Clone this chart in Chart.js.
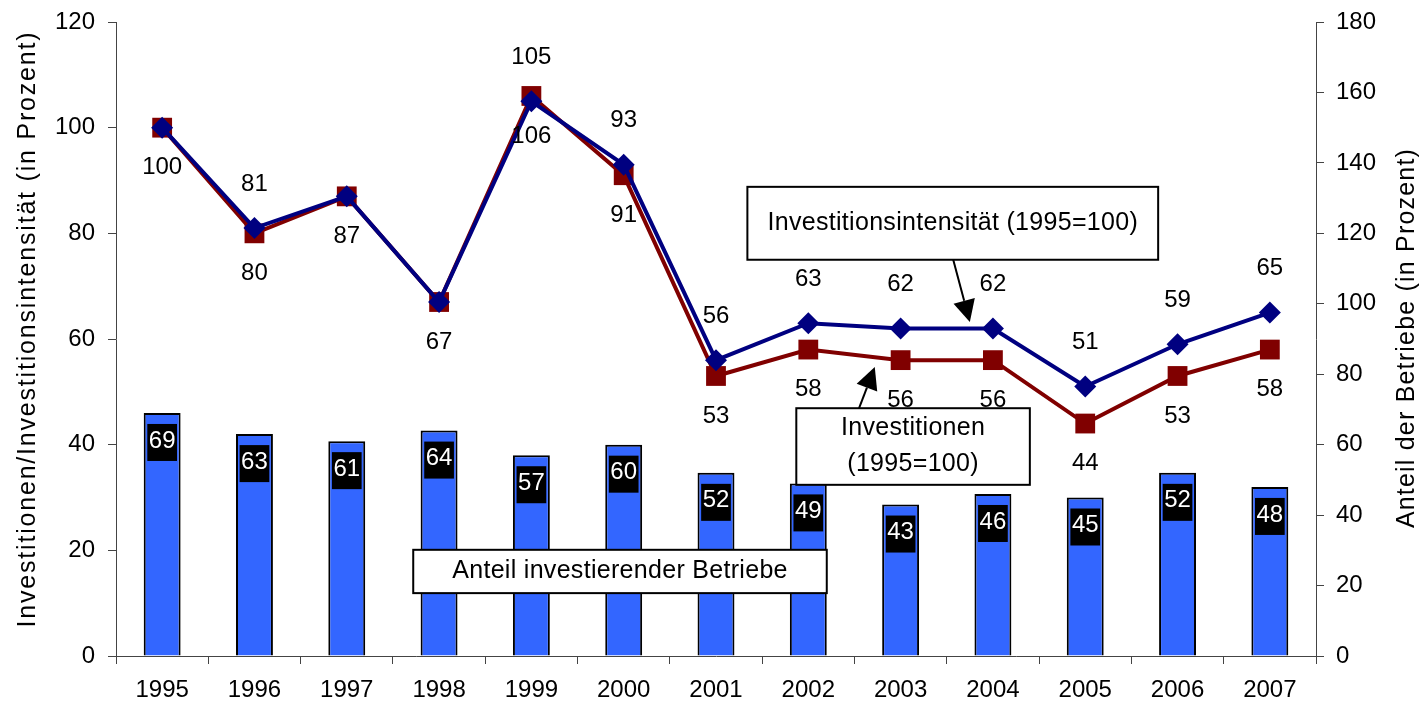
<!DOCTYPE html>
<html>
<head>
<meta charset="utf-8">
<script src="https://cdn.jsdelivr.net/npm/chart.js@4.4.1/dist/chart.umd.min.js"></script>
<style>
  html, body { margin: 0; padding: 0; background: #fff; }
  #wrap { width: 1420px; height: 706px; }
</style>
</head>
<body>
<div id="wrap"><canvas id="chart" width="1420" height="706"></canvas></div>
<script>
// Daten
const jahre = ['1995', '1996', '1997', '1998', '1999', '2000', '2001', '2002', '2003', '2004', '2005', '2006', '2007'];
const anteilBetriebe = [69, 63, 61, 64, 57, 60, 52, 49, 43, 46, 45, 52, 48];
const investitionen = [100, 80, 87, 67, 106, 91, 53, 58, 56, 56, 44, 53, 58];
const intensitaet = [100, 81, 87, 67, 105, 93, 56, 63, 62, 62, 51, 59, 65];
const linksTicks = [0, 20, 40, 60, 80, 100, 120];
const rechtsTicks = [0, 20, 40, 60, 80, 100, 120, 140, 160, 180];

const FONT = 'Liberation Sans, Arial, sans-serif';
const BLAU = '#000080';
const ROT = '#800000';
const BALKEN = '#3366ff';

// Textfelder mit Pfeilen (x in Kategorie-Index, y in Werten der linken Achse)
const hinweise = [
    { zeilen: ['Investitionsintensität (1995=100)'], x1: 6.34, x2: 10.79, y1: 88.8, y2: 75.0,
      pfeil: { von: [8.57, 75.0], nach: [8.75, 63.2] } },
    { zeilen: ['Investitionen', '(1995=100)'], x1: 6.87, x2: 9.40, y1: 46.9, y2: 32.4,
      pfeil: { von: [7.55, 46.9], nach: [7.72, 54.7] } },
    { zeilen: ['Anteil investierender Betriebe'], x1: 2.72, x2: 7.20, y1: 20.1, y2: 11.9 }
];

// Achsentitel, beide von unten nach oben gelesen
function zeichneTitel(ctx, text, x, y, abstand) {
    ctx.save();
    ctx.translate(x, y);
    ctx.rotate(-Math.PI / 2);
    ctx.letterSpacing = abstand + 'px';
    ctx.fillText(text, 0, 0);
    ctx.restore();
}

// Plugin: Beschriftungen, Textfelder, Achsentitel
const beschriftungPlugin = {
    id: 'beschriftung',
    afterDatasetsDraw(chart) {
        const ctx = chart.ctx;
        const xs = chart.scales.x;
        const ys = chart.scales.y;
        ctx.save();
        ctx.font = '24px ' + FONT;
        ctx.textAlign = 'center';
        ctx.textBaseline = 'middle';

        // Balkenwerte in schwarzen Kästchen
        const balken = chart.getDatasetMeta(0).data;
        balken.forEach((bar, i) => {
            const txt = String(anteilBetriebe[i]);
            const w = ctx.measureText(txt).width + 3;
            const top = bar.y + 11;
            ctx.fillStyle = '#000';
            ctx.fillRect(bar.x - w / 2, top, w, 37);
            ctx.fillStyle = '#fff';
            ctx.fillText(txt, bar.x, top + 17);
        });

        // Linienwerte
        ctx.fillStyle = '#000';
        chart.getDatasetMeta(1).data.forEach((pt, i) => {
            ctx.fillText(String(investitionen[i]), pt.x, pt.y + 40);
        });
        chart.getDatasetMeta(2).data.forEach((pt, i) => {
            if (intensitaet[i] !== investitionen[i]) {
                ctx.fillText(String(intensitaet[i]), pt.x, pt.y - 44);
            }
        });

        // Textfelder
        ctx.font = '25px ' + FONT;
        hinweise.forEach(h => {
            const l = xs.getPixelForValue(h.x1), r = xs.getPixelForValue(h.x2);
            const t = ys.getPixelForValue(h.y1), b = ys.getPixelForValue(h.y2);
            ctx.fillStyle = '#fff';
            ctx.fillRect(l, t, r - l, b - t);
            ctx.strokeStyle = '#000';
            ctx.lineWidth = 2;
            ctx.strokeRect(l, t, r - l, b - t);
            ctx.fillStyle = '#000';
            const lh = 36;
            const mitte = (t + b) / 2;
            ctx.letterSpacing = '0.3px';
            h.zeilen.forEach((z, k) => {
                ctx.fillText(z, (l + r) / 2, mitte + (k - (h.zeilen.length - 1) / 2) * lh);
            });
            ctx.letterSpacing = '0px';
            if (h.pfeil) {
                const x0 = xs.getPixelForValue(h.pfeil.von[0]), y0 = ys.getPixelForValue(h.pfeil.von[1]);
                const x1 = xs.getPixelForValue(h.pfeil.nach[0]), y1 = ys.getPixelForValue(h.pfeil.nach[1]);
                const ang = Math.atan2(y1 - y0, x1 - x0);
                const len = 22, half = 11;
                const bx = x1 - Math.cos(ang) * len, by = y1 - Math.sin(ang) * len;
                ctx.beginPath();
                ctx.moveTo(x0, y0);
                ctx.lineTo(bx, by);
                ctx.lineWidth = 2;
                ctx.stroke();
                ctx.beginPath();
                ctx.moveTo(x1, y1);
                ctx.lineTo(bx + Math.sin(ang) * half, by - Math.cos(ang) * half);
                ctx.lineTo(bx - Math.sin(ang) * half, by + Math.cos(ang) * half);
                ctx.closePath();
                ctx.fill();
            }
        });

        // Achsentitel
        zeichneTitel(ctx, 'Investitionen/Investitionsintensität (in Prozent)', 28, 329, 1.8);
        zeichneTitel(ctx, 'Anteil der Betriebe (in Prozent)', 1407, 338, 1.2);
        ctx.restore();
    }
};

const achsenFarbe = '#444';

// feste Achsenbreite, keine Zusatzabstände oben/unten
function festeBreite(breite) {
    return function (s) {
        s.width = breite;
        s.paddingTop = 0;
        s.paddingBottom = 0;
    };
}

new Chart(document.getElementById('chart'), {
    type: 'bar',
    data: {
        labels: jahre,
        datasets: [{
            type: 'bar',
            label: 'Anteil investierender Betriebe',
            data: anteilBetriebe,
            yAxisID: 'y1',
            backgroundColor: BALKEN,
            borderColor: '#000',
            borderWidth: 2,
            barPercentage: 0.4,
            categoryPercentage: 1,
            order: 3
        }, {
            type: 'line',
            label: 'Investitionen (1995=100)',
            data: investitionen,
            yAxisID: 'y',
            borderColor: ROT,
            backgroundColor: ROT,
            borderWidth: 4,
            pointStyle: 'rect',
            pointRadius: 14,
            pointBorderWidth: 0,
            tension: 0,
            clip: false,
            order: 2
        }, {
            type: 'line',
            label: 'Investitionsintensität (1995=100)',
            data: intensitaet,
            yAxisID: 'y',
            borderColor: BLAU,
            backgroundColor: BLAU,
            borderWidth: 4,
            pointStyle: 'rectRot',
            pointRadius: 11,
            pointBorderWidth: 0,
            tension: 0,
            clip: false,
            order: 1
        }]
    },
    options: {
        responsive: false,
        animation: false,
        layout: { autoPadding: false, padding: { top: 22, left: 0, right: 0, bottom: 0 } },
        plugins: {
            legend: { display: false },
            tooltip: { enabled: false }
        },
        scales: {
            x: {
                offset: true,
                grid: { offset: true, drawOnChartArea: false, tickLength: 8, color: achsenFarbe },
                border: { color: achsenFarbe, width: 1 },
                ticks: { font: { family: FONT, size: 24 }, color: '#000', padding: 12, maxRotation: 0 },
                afterFit(s) { s.height = 50; }
            },
            y: {
                position: 'left',
                min: 0,
                max: 120,
                afterBuildTicks(s) { s.ticks = linksTicks.map(v => ({ value: v })); },
                grid: { drawOnChartArea: false, tickLength: 8, color: achsenFarbe },
                border: { color: achsenFarbe, width: 1 },
                ticks: { font: { family: FONT, size: 24 }, color: '#000', padding: 13 },
                afterFit: festeBreite(116)
            },
            y1: {
                position: 'right',
                min: 0,
                max: 180,
                afterBuildTicks(s) { s.ticks = rechtsTicks.map(v => ({ value: v })); },
                grid: { drawOnChartArea: false, tickLength: 8, color: achsenFarbe },
                border: { color: achsenFarbe, width: 1 },
                ticks: { font: { family: FONT, size: 24 }, color: '#000', padding: 12 },
                afterFit: festeBreite(104)
            }
        }
    },
    plugins: [beschriftungPlugin]
});
</script>
</body>
</html>
